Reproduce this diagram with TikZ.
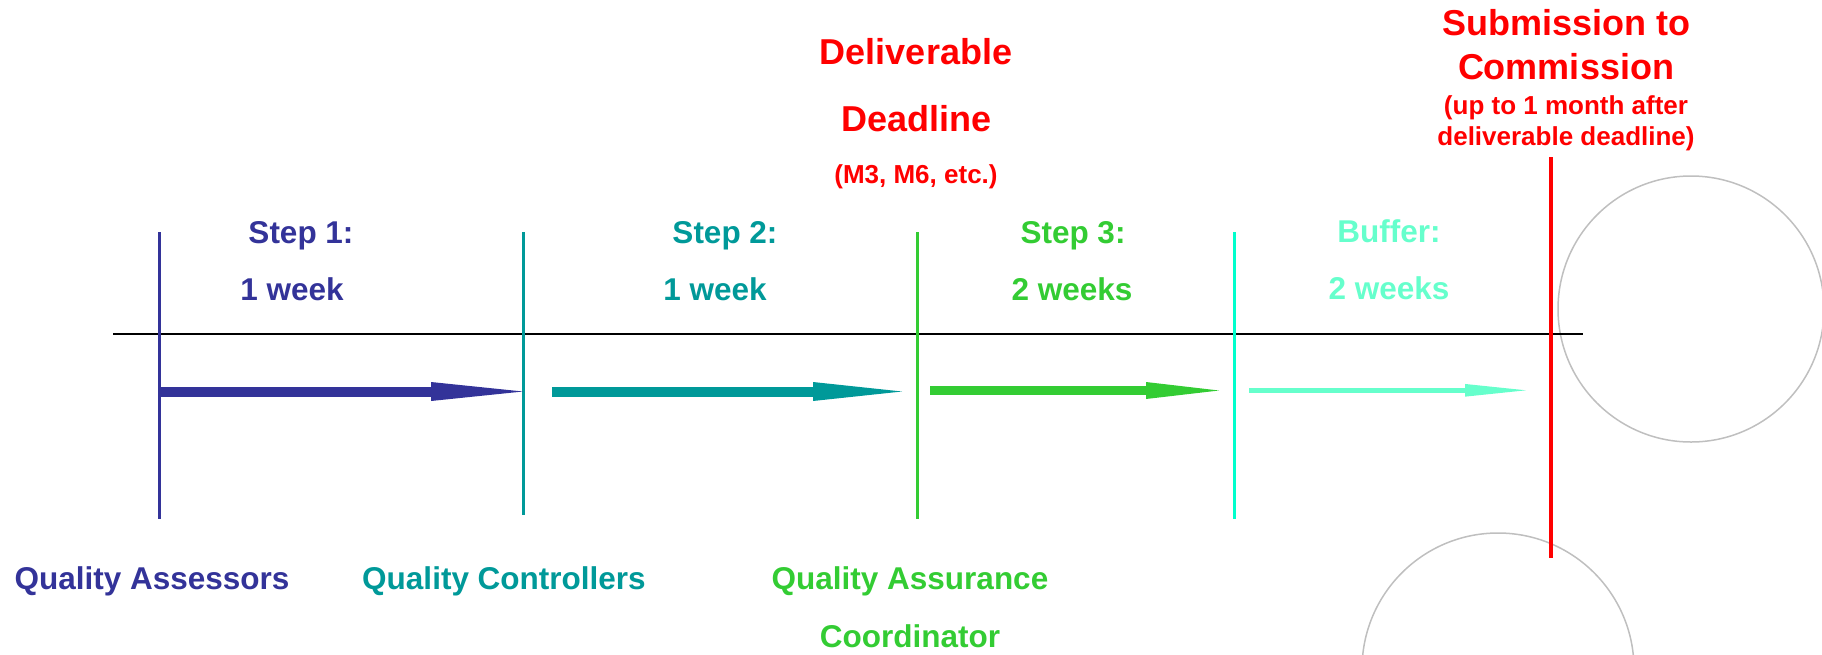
\documentclass[tikz,border=0pt]{standalone}
\usepackage{fontspec}
\setmainfont{Liberation Sans}
\usetikzlibrary{arrows.meta}
\definecolor{cA}{HTML}{333399}
\definecolor{cB}{HTML}{009999}
\definecolor{cC}{HTML}{33CC33}
\definecolor{cD}{HTML}{00FFCC}
\definecolor{cDl}{HTML}{66FFCC}
\definecolor{cR}{HTML}{FF0000}
\definecolor{cG}{HTML}{BFBFBF}
\begin{document}
\begin{tikzpicture}[x=1pt,y=-1pt,
  lbl/.style={anchor=base, inner sep=0pt, font=\fontsize{31.5}{36}\selectfont\bfseries},
  big/.style={anchor=base, inner sep=0pt, font=\fontsize{36}{40}\selectfont\bfseries, text=cR},
  small/.style={anchor=base, inner sep=0pt, font=\fontsize{26}{30}\selectfont\bfseries, text=cR},
  vline/.style={line width=3pt},
  ring/.style={draw=cG, line width=1.5pt}]
\useasboundingbox (0,0) rectangle (1822,654);

% circles
\draw[ring] (1691,309) circle[radius=133];
\draw[ring] (1498,669) circle[radius=136];

% axis
\coordinate (axL) at (113,334);
\coordinate (axR) at (1583,334);
\draw[line width=2pt, black] (axL) -- (axR);

% vertical lines
\coordinate (v1t) at (159,232); \coordinate (v1b) at (159,519);
\coordinate (v2t) at (523,232); \coordinate (v2b) at (523,515);
\coordinate (v3t) at (917,232); \coordinate (v3b) at (917,519);
\coordinate (v4t) at (1234,232); \coordinate (v4b) at (1234,519);
\coordinate (v5t) at (1551,157); \coordinate (v5b) at (1551,558);
\draw[vline, cA] (v1t) -- (v1b);
\draw[vline, cB] (v2t) -- (v2b);
\draw[vline, cC] (v3t) -- (v3b);
\draw[vline, cD] (v4t) -- (v4b);
\draw[line width=4pt, cR] (v5t) -- (v5b);

% arrows
\coordinate (a1s) at (159,391.5); \coordinate (a1e) at (523,391.5);
\coordinate (a2s) at (552,391.5); \coordinate (a2e) at (902,391.5);
\coordinate (a3s) at (930,390.5); \coordinate (a3e) at (1219,390.5);
\coordinate (a4s) at (1249,390.3); \coordinate (a4e) at (1526,390.3);
\draw[cA, line width=10pt, -{Triangle[length=92pt,width=19pt,line width=0pt]}] (a1s) -- (a1e);
\draw[cB, line width=10pt, -{Triangle[length=89pt,width=19pt,line width=0pt]}] (a2s) -- (a2e);
\draw[cC, line width=9.5pt, -{Triangle[length=73pt,width=17pt,line width=0pt]}] (a3s) -- (a3e);
\draw[cDl, line width=5.5pt, -{Triangle[length=61pt,width=12.7pt,line width=0pt]}] (a4s) -- (a4e);

% step labels
\node[lbl, text=cA] (s1a) at (301,243) {Step 1:};
\node[lbl, text=cA] (s1b) at (292,300) {1 week};
\node[lbl, text=cB] (s2a) at (725,243) {Step 2:};
\node[lbl, text=cB] (s2b) at (715,300) {1 week};
\node[lbl, text=cC] (s3a) at (1073,243) {Step 3:};
\node[lbl, text=cC] (s3b) at (1072,300) {2 weeks};
\node[lbl, text=cDl] (s4a) at (1389,242) {Buffer:};
\node[lbl, text=cDl] (s4b) at (1389,299) {2 weeks};

% deadline
\node[big] (dl1) at (916,64) {Deliverable};
\node[big] (dl2) at (916.5,131) {Deadline};
\node[small] (dl3) at (916,183) {(M3, M6, etc.)};

% submission
\node[big] (sb1) at (1566,35) {Submission to};
\node[big] (sb2) at (1566,79) {Commission};
\node[small] (sb3) at (1566,114) {(up to 1 month after};
\node[small] (sb4) at (1566,145) {deliverable deadline)};

% roles
\node[lbl, text=cA] (r1) at (152,589) {Quality Assessors};
\node[lbl, text=cB] (r2) at (504,589) {Quality Controllers};
\node[lbl, text=cC] (r3a) at (910,589) {Quality Assurance};
\node[lbl, text=cC] (r3b) at (910,647) {Coordinator};
\end{tikzpicture}
\end{document}
